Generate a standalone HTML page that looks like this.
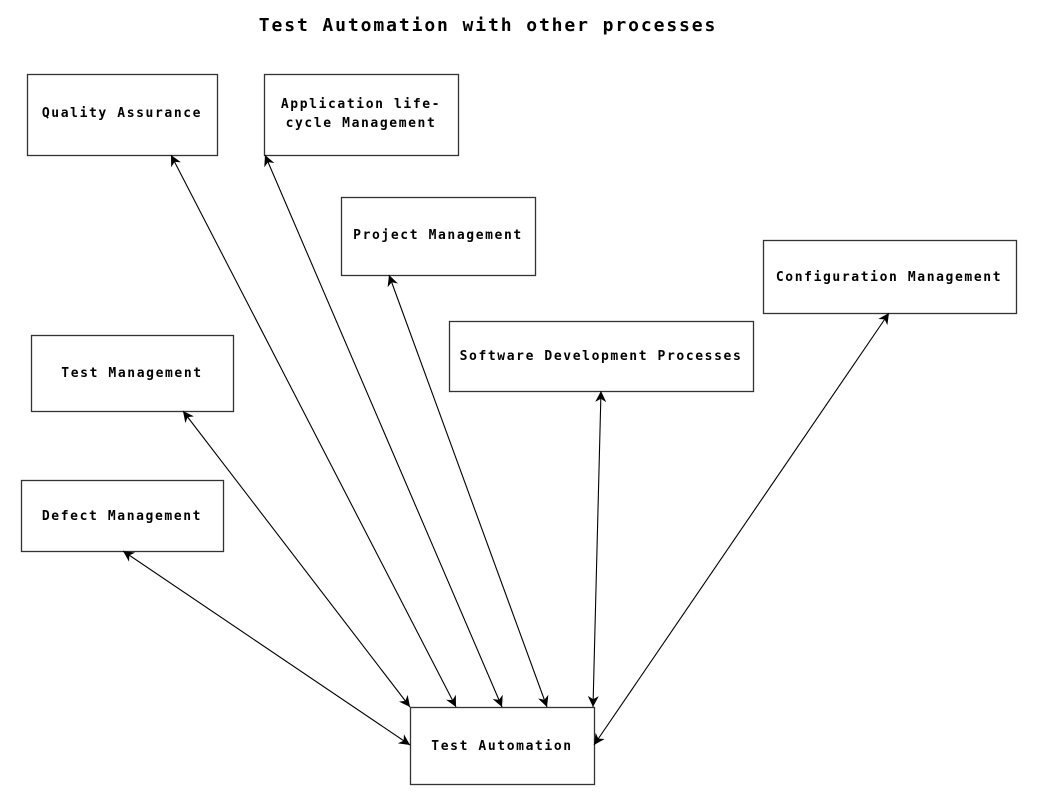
<!DOCTYPE html>
<html><head><meta charset="utf-8"><style>
html,body{margin:0;padding:0;background:#fff;}
svg text{font-family:"DejaVu Sans Mono","Liberation Mono",monospace;font-weight:bold;fill:#000;}
</style></head><body>
<svg width="1039" height="803" viewBox="0 0 1039 803" xmlns="http://www.w3.org/2000/svg">
<defs><marker id="a" viewBox="0 0 10 10" refX="10" refY="5" markerWidth="11" markerHeight="11" orient="auto-start-reverse" markerUnits="userSpaceOnUse"><path d="M0,0 L10,5 L0,10 L3,5 z" fill="#000"/></marker></defs>
<text x="488" y="31" font-size="18" text-anchor="middle" letter-spacing="1.9">Test Automation with other processes</text>
<g fill="#fff" stroke="#333" stroke-width="1.3">
<rect x="27.5" y="74.5" width="190" height="81"/>
<rect x="264.5" y="74.5" width="194" height="81"/>
<rect x="341.5" y="197.5" width="194" height="78"/>
<rect x="763.5" y="240.5" width="253" height="73"/>
<rect x="449.5" y="321.5" width="304" height="70"/>
<rect x="31.5" y="335.5" width="202" height="76"/>
<rect x="21.5" y="480.5" width="202" height="71"/>
<rect x="410.5" y="707.5" width="184" height="77"/>
</g>
<g stroke="#000" stroke-width="1.1" marker-start="url(#a)" marker-end="url(#a)">
<line x1="171" y1="155" x2="456" y2="707"/>
<line x1="265" y1="155" x2="502" y2="707"/>
<line x1="389" y1="275" x2="547" y2="707"/>
<line x1="601" y1="391" x2="593" y2="707"/>
<line x1="889" y1="313" x2="594" y2="745"/>
<line x1="183" y1="411" x2="410" y2="707"/>
<line x1="123" y1="551" x2="410" y2="745"/>
</g>
<g font-size="13" letter-spacing="1.6" text-anchor="middle">
<text x="122" y="117">Quality Assurance</text>
<text x="361" y="108">Application life-</text>
<text x="361" y="127">cycle Management</text>
<text x="438" y="239">Project Management</text>
<text x="889" y="281">Configuration Management</text>
<text x="601" y="360">Software Development Processes</text>
<text x="132" y="377">Test Management</text>
<text x="122" y="520">Defect Management</text>
<text x="502" y="750">Test Automation</text>
</g>
</svg>
</body></html>
